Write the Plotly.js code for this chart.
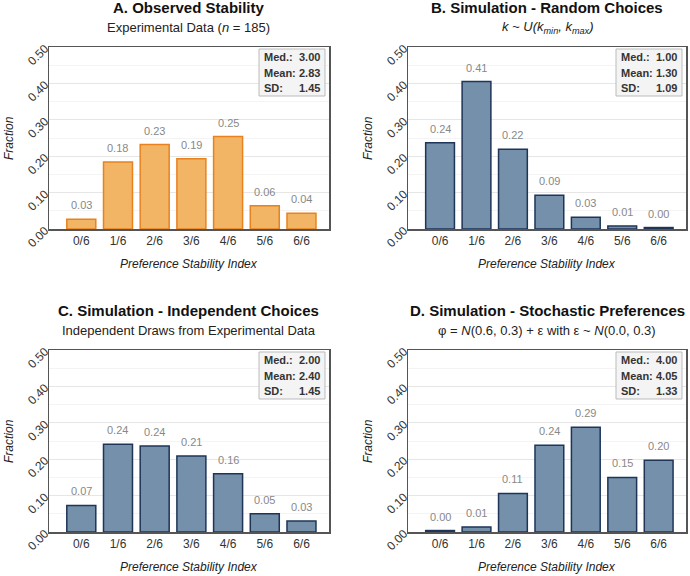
<!DOCTYPE html>
<html><head><meta charset="utf-8">
<script src="https://cdn.plot.ly/plotly-3.0.1.min.js"></script>
<style>html,body{margin:0;padding:0;background:#fff}</style>
</head><body><div id="chart" style="width:690px;height:576px"></div>
<script>
const categories = ["0/6","1/6","2/6","3/6","4/6","5/6","6/6"];
const valuesA = [0.027, 0.184, 0.232, 0.193, 0.254, 0.064, 0.043];
const valuesB = [0.237, 0.405, 0.219, 0.093, 0.032, 0.008, 0.004];
const valuesC = [0.073, 0.241, 0.236, 0.209, 0.160, 0.050, 0.030];
const valuesD = [0.004, 0.014, 0.106, 0.238, 0.288, 0.150, 0.197];
const panelTitles = ["A. Observed Stability","B. Simulation - Random Choices","C. Simulation - Independent Choices","D. Simulation - Stochastic Preferences"];
const panelSubtitles = ["Experimental Data (<i>n</i> = 185)",
  "<i>k ~ U(k<sub>min</sub>, k<sub>max</sub>)</i>",
  "Independent Draws from Experimental Data",
  "φ = <i>N</i>(0.6, 0.3) + ε with ε ~ <i>N</i>(0.0, 0.3)"];
const statLabels = ["Med.:","Mean:","SD:"];
const statsA = ["3.00","2.83","1.45"];
const statsB = ["1.00","1.30","1.09"];
const statsC = ["2.00","2.40","1.45"];
const statsD = ["4.00","4.05","1.33"];
const yTicks = [0,0.1,0.2,0.3,0.4,0.5];

const W=690,H=576;
const FONT="Liberation Sans, Arial, sans-serif";
const panels = [
  {vals:valuesA, stats:statsA, fill:"#F2B465", edge:"#E8821F", px:[49,329], py:[47,229]},
  {vals:valuesB, stats:statsB, fill:"#7490AB", edge:"#1E3558", px:[408,686], py:[47,229]},
  {vals:valuesC, stats:statsC, fill:"#7490AB", edge:"#1E3558", px:[49,329], py:[350,532]},
  {vals:valuesD, stats:statsD, fill:"#7490AB", edge:"#1E3558", px:[408,686], py:[350,532]}
];
const data=[]; const layout={width:W,height:H,margin:{l:0,r:0,t:0,b:0},showlegend:false,
  paper_bgcolor:"#fff",plot_bgcolor:"#fff",font:{family:FONT,color:"#333"},
  annotations:[],shapes:[],bargap:0.2};
panels.forEach((p,i)=>{
  const n=i+1, xs=n===1?"x":"x"+n, ys=n===1?"y":"y"+n;
  const xa=n===1?"xaxis":"xaxis"+n, ya=n===1?"yaxis":"yaxis"+n;
  data.push({type:"bar",x:categories,y:p.vals,xaxis:xs,yaxis:ys,width:0.79,
    marker:{color:p.fill,line:{color:p.edge,width:1.5}},hoverinfo:"skip"});
  layout[xa]={domain:[p.px[0]/W,p.px[1]/W],anchor:ys,range:[-0.88,6.75],
    showline:true,mirror:true,linecolor:"#555",linewidth:1.5,ticks:"",
    tickfont:{size:12,color:"#333"},showgrid:false,zeroline:false,fixedrange:true};
  layout[ya]={domain:[1-p.py[1]/H,1-p.py[0]/H],anchor:xs,range:[0,0.5],
    tickvals:yTicks,tickformat:".2f",tickangle:-45,tickfont:{size:12,color:"#333"},
    showline:true,mirror:true,linecolor:"#555",linewidth:1.5,ticks:"",
    showgrid:true,gridcolor:"#e6e6e6",gridwidth:1,zeroline:false,
    minor:{dtick:0.05,showgrid:true,gridcolor:"#f4f4f4",gridwidth:1},fixedrange:true};
  const cx=(p.px[0]+p.px[1])/2/W;
  layout.annotations.push({xref:"paper",yref:"paper",x:cx,xanchor:"center",y:1-(p.py[0]-40)/H,yanchor:"middle",
    text:"<b>"+panelTitles[i]+"</b>",showarrow:false,font:{size:15,color:"#111"}});
  layout.annotations.push({xref:"paper",yref:"paper",x:cx,xanchor:"center",y:1-(p.py[0]-20)/H,yanchor:"middle",
    text:panelSubtitles[i],showarrow:false,font:{size:13,color:"#222"}});
  layout.annotations.push({xref:"paper",yref:"paper",x:(p.px[0]-40)/W,xanchor:"center",y:1-(p.py[0]+p.py[1])/2/H,yanchor:"middle",
    text:"<i>Fraction</i>",textangle:-90,showarrow:false,font:{size:12,color:"#222"}});
  layout.annotations.push({xref:"paper",yref:"paper",x:cx,xanchor:"center",y:1-(p.py[1]+35)/H,yanchor:"middle",
    text:"<i>Preference Stability Index</i>",showarrow:false,font:{size:12,color:"#222"}});
  // value labels
  p.vals.forEach((v,k)=>{
    layout.annotations.push({xref:xs,yref:ys,x:categories[k],y:v,xanchor:"center",yanchor:"bottom",yshift:6,
      text:v.toFixed(2),showarrow:false,font:{size:11,color:"#888"}});
  });
  // stats box
  const bw=66,bh=47, bx1=p.px[1]-4, bx0=bx1-bw, by0=p.py[0]+2, by1=by0+bh;
  layout.shapes.push({type:"rect",xref:"paper",yref:"paper",x0:bx0/W,x1:bx1/W,y0:1-by1/H,y1:1-by0/H,
    fillcolor:"#f4f4f4",line:{color:"#bbb",width:1},layer:"above"});
  statLabels.forEach((lab,k)=>{
    const yy=by0+8+k*15.5;
    layout.annotations.push({xref:"paper",yref:"paper",x:(bx0+3)/W,y:1-yy/H,xanchor:"left",yanchor:"middle",
      text:"<b>"+lab+"</b>",showarrow:false,font:{size:11,color:"#333"}});
    layout.annotations.push({xref:"paper",yref:"paper",x:(bx1-3)/W,y:1-yy/H,xanchor:"right",yanchor:"middle",
      text:"<b>"+p.stats[k]+"</b>",showarrow:false,font:{size:11,color:"#333"}});
  });
});
Plotly.newPlot("chart",data,layout,{staticPlot:true,displayModeBar:false});
</script></body></html>
